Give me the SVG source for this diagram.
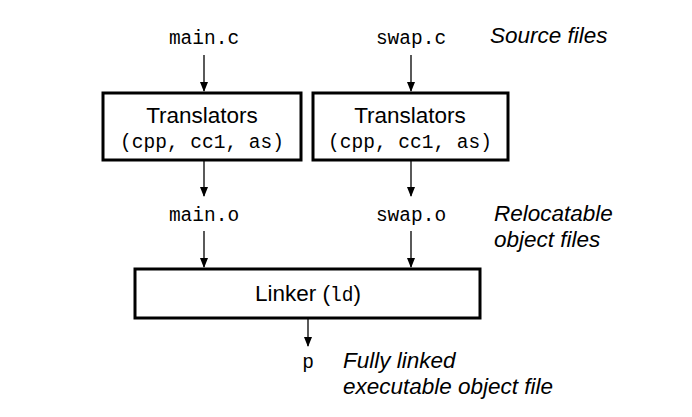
<svg xmlns="http://www.w3.org/2000/svg" width="692" height="417" viewBox="0 0 692 417">
<style>
.m{font-family:"Liberation Mono",monospace;font-size:19.5px;fill:#000}
.s{font-family:"Liberation Sans",Arial,sans-serif;font-size:22.5px;fill:#000}
.i{font-family:"Liberation Sans",Arial,sans-serif;font-size:22.5px;font-style:italic;fill:#000}
.b{fill:#fff;stroke:#000;stroke-width:3}
.c line{stroke:#000;stroke-width:1.3}
</style>
<defs><marker id="a" markerWidth="10" markerHeight="10" refX="9" refY="5" orient="auto" markerUnits="userSpaceOnUse"><path d="M0,1 L10,5 L0,9 Z" fill="#000"/></marker></defs>
<rect width="692" height="417" fill="#fff"/>
<g class="c">
<line x1="204" y1="55" x2="204" y2="91" marker-end="url(#a)"/>
<line x1="411" y1="55" x2="411" y2="91" marker-end="url(#a)"/>
<line x1="204" y1="161" x2="204" y2="196" marker-end="url(#a)"/>
<line x1="411" y1="161" x2="411" y2="196" marker-end="url(#a)"/>
<line x1="204" y1="231" x2="204" y2="267" marker-end="url(#a)"/>
<line x1="411" y1="231" x2="411" y2="267" marker-end="url(#a)"/>
<line x1="308" y1="319" x2="308" y2="346" marker-end="url(#a)"/>
</g>
<g id="mainc"><text class="m" x="204" y="44" text-anchor="middle">main.c</text></g>
<g id="swapc"><text class="m" x="411" y="44" text-anchor="middle">swap.c</text></g>
<g id="t1"><rect class="b" x="103" y="93" width="198" height="67"/><text class="s" x="202" y="123" text-anchor="middle">Translators</text><text class="m" x="202" y="148" text-anchor="middle">(cpp, cc1, as)</text></g>
<g id="t2"><rect class="b" x="313" y="93" width="195" height="67"/><text class="s" x="410" y="123" text-anchor="middle">Translators</text><text class="m" x="410" y="148" text-anchor="middle">(cpp, cc1, as)</text></g>
<g id="maino"><text class="m" x="204" y="221" text-anchor="middle">main.o</text></g>
<g id="swapo"><text class="m" x="411" y="221" text-anchor="middle">swap.o</text></g>
<g id="linker"><rect class="b" x="135" y="269" width="345" height="49"/><text class="s" x="308" y="301" text-anchor="middle">Linker (<tspan class="m">ld</tspan>)</text></g>
<g id="p"><text class="m" x="308" y="368" text-anchor="middle">p</text></g>
<text class="i" x="490" y="43">Source files</text>
<text class="i" x="494" y="221">Relocatable</text>
<text class="i" x="494" y="247">object files</text>
<text class="i" x="343" y="368">Fully linked</text>
<text class="i" x="343" y="394">executable object file</text>
</svg>
